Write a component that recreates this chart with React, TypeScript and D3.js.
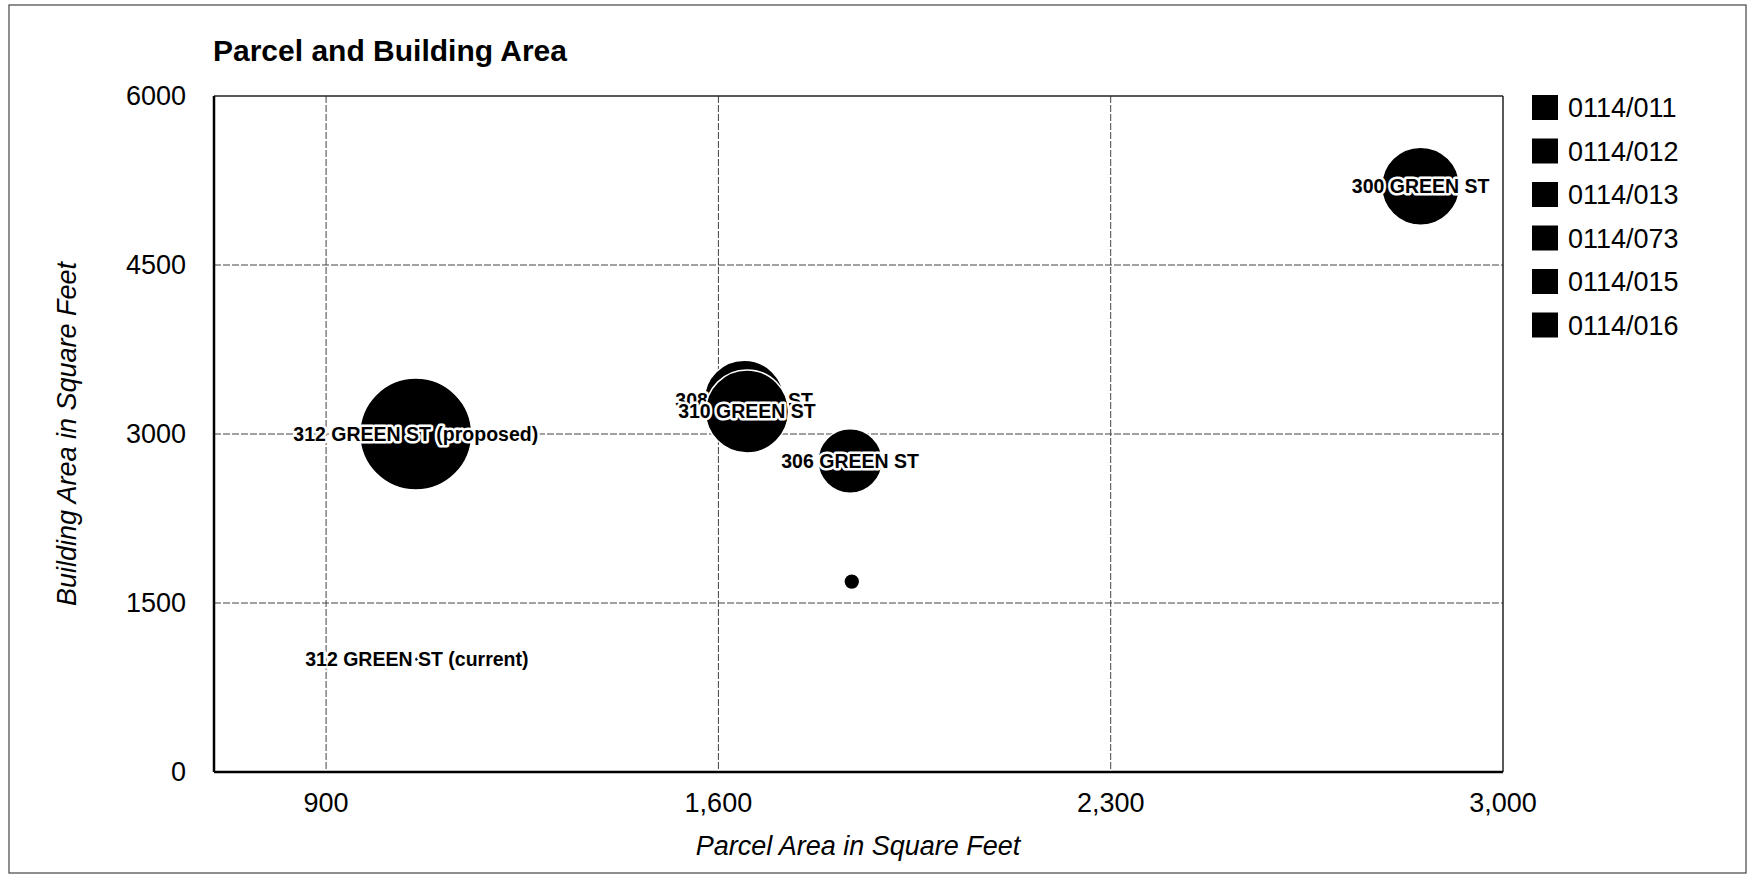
import React from "react";
import * as d3 from "d3";

const labels = [
  "312 GREEN ST (proposed)",
  "312 GREEN ST (current)",
  "308 GREEN ST",
  "310 GREEN ST",
  "306 GREEN ST",
  "",
  "300 GREEN ST",
];
const parcelArea = [1060, 1062, 1646, 1651, 1835, 1838, 2853];
const buildingArea = [3000, 1000, 3300, 3200, 2760, 1690, 5200];
const bubbleSize = [100, 0.2, 51, 55, 33, 2.0, 48.5];
const legendItems = ["0114/011", "0114/012", "0114/013", "0114/073", "0114/015", "0114/016"];
const xTicks = [900, 1600, 2300, 3000];
const yTicks = [0, 1500, 3000, 4500, 6000];

const W = 1748;
const H = 876;
const M = { left: 214, right: 1503, top: 96, bottom: 772 };
const FONT = "'Liberation Sans', Arial, sans-serif";

export default function App() {
  const x = d3.scaleLinear().domain([700, 3000]).range([M.left, M.right]);
  const y = d3.scaleLinear().domain([0, 6000]).range([M.bottom, M.top]);
  const r = d3.scaleSqrt().domain([0, 100]).range([0, 56]);
  const fmtX = d3.format(",");

  return (
    <svg
      width={W}
      height={H}
      style={{ position: "absolute", left: 0, top: 0, display: "block", background: "#fff" }}
      fontFamily={FONT}
    >
      <rect x={0} y={0} width={W} height={H} fill="#fff" />
      <rect x={9} y={5} width={1737} height={868} fill="none" stroke="#444" strokeWidth={1.2} />

      <text x={213} y={50} fontSize={30} fontWeight="bold" dominantBaseline="central" fill="#000">
        Parcel and Building Area
      </text>

      {/* gridlines */}
      {xTicks.filter((t) => t < 3000).map((t) => (
        <line key={"gx" + t} x1={x(t)} x2={x(t)} y1={M.top} y2={M.bottom} stroke="#444" strokeWidth={1} strokeDasharray="7,2" />
      ))}
      {yTicks.filter((t) => t > 0 && t < 6000).map((t) => (
        <line key={"gy" + t} x1={M.left} x2={M.right} y1={y(t)} y2={y(t)} stroke="#444" strokeWidth={1} strokeDasharray="7,2" />
      ))}

      {/* plot frame */}
      <line x1={M.left} x2={M.right} y1={M.top} y2={M.top} stroke="#222" strokeWidth={1.5} />
      <line x1={M.right} x2={M.right} y1={M.top} y2={M.bottom} stroke="#222" strokeWidth={1.5} />
      <line x1={M.left} x2={M.left} y1={M.top} y2={M.bottom} stroke="#000" strokeWidth={2.5} />
      <line x1={M.left} x2={M.right} y1={M.bottom} y2={M.bottom} stroke="#000" strokeWidth={2.5} />

      {/* tick labels */}
      {yTicks.map((t) => (
        <text key={"ty" + t} x={186} y={y(t)} fontSize={27} textAnchor="end" dominantBaseline="central" fill="#000">
          {t}
        </text>
      ))}
      {xTicks.map((t) => (
        <text key={"tx" + t} x={x(t)} y={803} fontSize={27} textAnchor="middle" dominantBaseline="central" fill="#000">
          {fmtX(t)}
        </text>
      ))}

      <text x={858} y={846} fontSize={27} fontStyle="italic" textAnchor="middle" dominantBaseline="central" fill="#000">
        Parcel Area in Square Feet
      </text>
      <text
        transform={`translate(67,${(M.top + M.bottom) / 2})  rotate(-90)`}
        fontSize={27}
        fontStyle="italic"
        textAnchor="middle"
        dominantBaseline="central"
        fill="#000"
      >
        Building Area in Square Feet
      </text>

      {/* bubbles */}
      {labels.map((lab, i) => (
        <g key={"b" + i}>
          <circle
            cx={x(parcelArea[i])}
            cy={y(buildingArea[i])}
            r={Math.max(r(bubbleSize[i]), 2)}
            fill="#000"
            stroke="#fff"
            strokeWidth={1.5}
          />
          {lab && (
            <text
              x={x(parcelArea[i])}
              y={y(buildingArea[i])}
              fontSize={19.5}
              fontWeight="bold"
              textAnchor="middle"
              dominantBaseline="central"
              fill="#000"
              stroke="#fff"
              strokeWidth={5}
              strokeLinejoin="round"
              paintOrder="stroke"
            >
              {lab}
            </text>
          )}
        </g>
      ))}

      {/* legend */}
      {legendItems.map((item, i) => (
        <g key={"l" + i} transform={`translate(1532,${95 + i * 43.5})`}>
          <rect x={0} y={0} width={26} height={25} fill="#000" />
          <text x={36} y={13} fontSize={27} dominantBaseline="central" fill="#000">
            {item}
          </text>
        </g>
      ))}
    </svg>
  );
}
